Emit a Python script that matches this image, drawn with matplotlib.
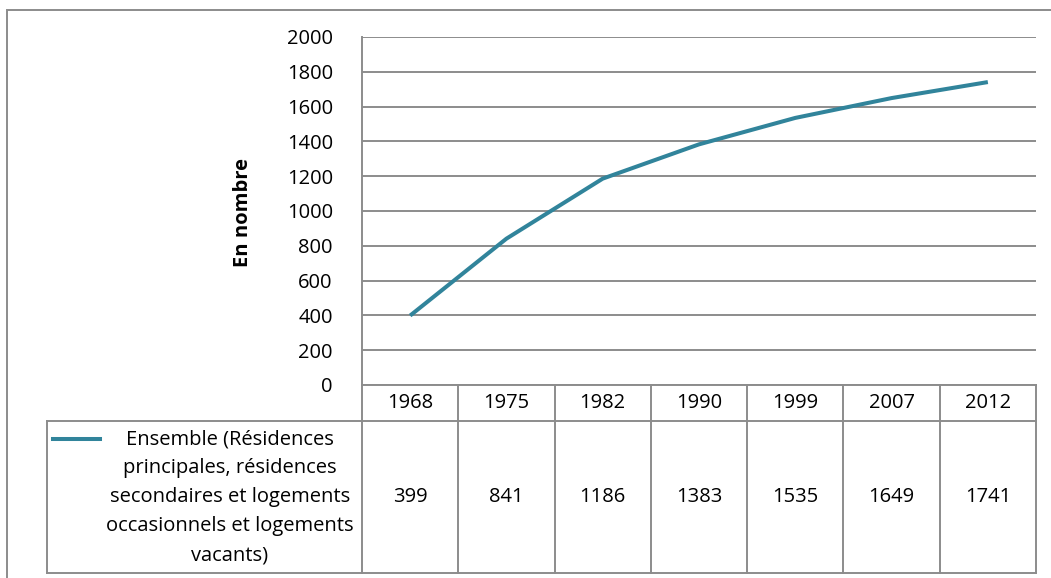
import matplotlib
matplotlib.use("Agg")
import matplotlib.pyplot as plt
from matplotlib.lines import Line2D
from matplotlib.patches import Rectangle

plt.rcParams['font.family'] = ['Open Sans', 'DejaVu Sans']

years = ["1968", "1975", "1982", "1990", "1999", "2007", "2012"]
values = [399, 841, 1186, 1383, 1535, 1649, 1741]
series_label = ("Ensemble (Résidences\nprincipales, résidences\nsecondaires et logements\n"
                "occasionnels et logements\nvacants)")
y_ticks = [0, 200, 400, 600, 800, 1000, 1200, 1400, 1600, 1800, 2000]
y_title = "En nombre"

W, H = 1051, 578
LINE = "#31849B"
GRID = "#8C8C8C"
FS = 14.5

fig = plt.figure(figsize=(W / 100, H / 100), dpi=100)


def fx(px):
    return px / W


def fy(py):
    return 1 - py / H


# pixel layout of the plot area and the data table
left, right, top, zero = 362, 1036, 37, 385
row1_bottom, row2_bottom = 421, 573
legend_left = 47

ax = fig.add_axes([fx(left), fy(zero), fx(right - left), (zero - top) / H])
n = len(years)
ax.plot(range(n), values, color=LINE, lw=2.9, solid_capstyle="butt", zorder=3)
ax.set_xlim(-0.5, n - 0.5)
ax.set_ylim(0, 2000)
ax.set_yticks(y_ticks)
ax.set_yticklabels([str(t) for t in y_ticks], fontsize=FS)
ax.tick_params(axis="y", length=0, pad=21)
ax.set_xticks([])
ax.grid(axis="y", color=GRID, lw=1.4)
for s in ["top", "right", "bottom"]:
    ax.spines[s].set_visible(False)
ax.spines["left"].set_color(GRID)
ax.spines["left"].set_linewidth(1.4)
ax.text(fx(243), fy(212), y_title, transform=fig.transFigure, rotation=90,
        ha="center", va="center", fontsize=FS, fontweight="bold")

# outer chart frame
fig.add_artist(Rectangle((fx(7), fy(H + 10)), fx(W + 10), (H) / H,
                         fill=False, ec=GRID, lw=1.4, transform=fig.transFigure))


def hline(x0, x1, y):
    fig.add_artist(Line2D([fx(x0), fx(x1)], [fy(y), fy(y)], color=GRID, lw=1.4,
                          transform=fig.transFigure))


def vline(x, y0, y1):
    fig.add_artist(Line2D([fx(x), fx(x)], [fy(y0), fy(y1)], color=GRID, lw=1.4,
                          transform=fig.transFigure))


# data table under the axis
col_w = (right - left) / n
hline(left, right, zero)
hline(legend_left, right, row1_bottom)
hline(legend_left, right, row2_bottom)
vline(legend_left, row1_bottom, row2_bottom)
for i in range(n + 1):
    vline(left + i * col_w, zero, row2_bottom)

for i, (yr, v) in enumerate(zip(years, values)):
    cx = left + (i + 0.5) * col_w
    fig.text(fx(cx), fy((zero + row1_bottom) / 2), yr, ha="center", va="center", fontsize=FS)
    fig.text(fx(cx), fy((row1_bottom + row2_bottom) / 2), str(v), ha="center", va="center",
             fontsize=FS)

# legend key and series name
fig.add_artist(Line2D([fx(53), fx(100)], [fy(439), fy(439)], color=LINE, lw=2.9,
                      transform=fig.transFigure))
fig.text(fx(230), fy(497), series_label, ha="center", va="center", fontsize=FS,
         linespacing=1.6)

fig.savefig("out.png", dpi=100)
